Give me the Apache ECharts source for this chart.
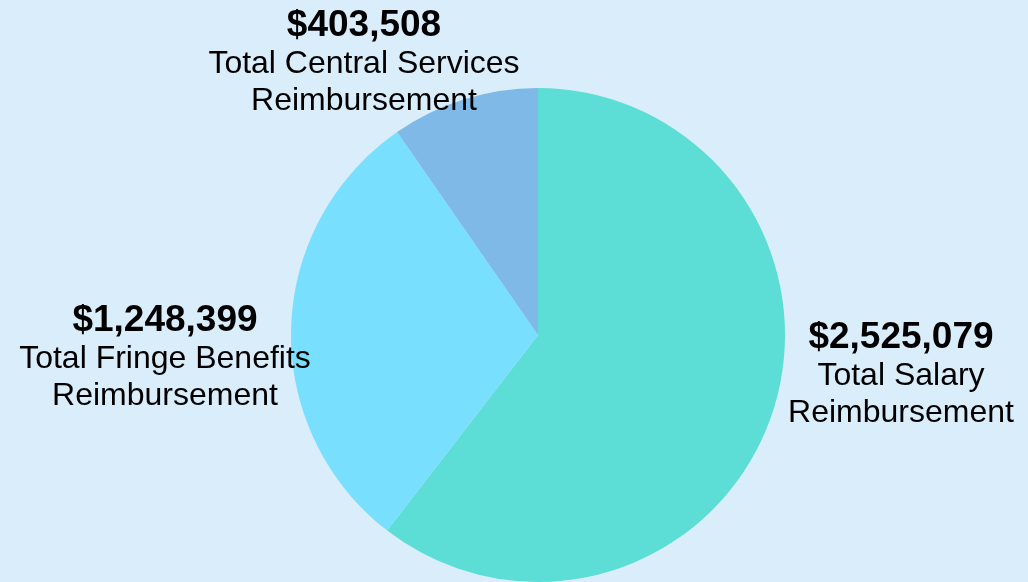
<!DOCTYPE html>
<html>
<head>
<meta charset="utf-8">
<script src="https://cdn.jsdelivr.net/npm/echarts@6/dist/echarts.min.js"></script>
<style>
html,body{margin:0;padding:0;background:#D9EDFA;}
#chart{width:1028px;height:582px;}
</style>
</head>
<body>
<div id="chart"></div>
<script>
const categories = ['Total Salary\nReimbursement', 'Total Fringe Benefits\nReimbursement', 'Total Central Services\nReimbursement'];
const values = [2525079, 1248399, 403508];
const colors = ['#5CDED6', '#79DFFE', '#7EB9E7'];
const labelSpots = [[901, 375], [165, 358], [364, 63]];

const chart = echarts.init(document.getElementById('chart'));
chart.setOption({
  backgroundColor: '#D9EDFA',
  animation: false,
  series: [{
    type: 'pie',
    center: [538, 335],
    radius: [0, 247],
    startAngle: 90,
    clockwise: true,
    data: categories.map((c, i) => ({ name: c, value: values[i], itemStyle: { color: colors[i] } })),
    label: {
      show: true,
      position: 'outside',
      overflow: 'none',
      edgeDistance: 0,
      formatter: p => '{v|$' + p.value.toLocaleString('en-US') + '}\n{n|' + p.name + '}',
      align: 'center',
      rich: {
        v: { fontFamily: 'Liberation Sans', fontWeight: 'bold', fontSize: 37, color: '#000', lineHeight: 40, align: 'center' },
        n: { fontFamily: 'Liberation Sans', fontSize: 32, color: '#000', lineHeight: 37, align: 'center' }
      }
    },
    labelLine: { show: false },
    labelLayout: p => ({ x: labelSpots[p.dataIndex][0], y: labelSpots[p.dataIndex][1], align: 'center', verticalAlign: 'middle' }),
    emphasis: { disabled: true }
  }]
});
</script>
</body>
</html>
